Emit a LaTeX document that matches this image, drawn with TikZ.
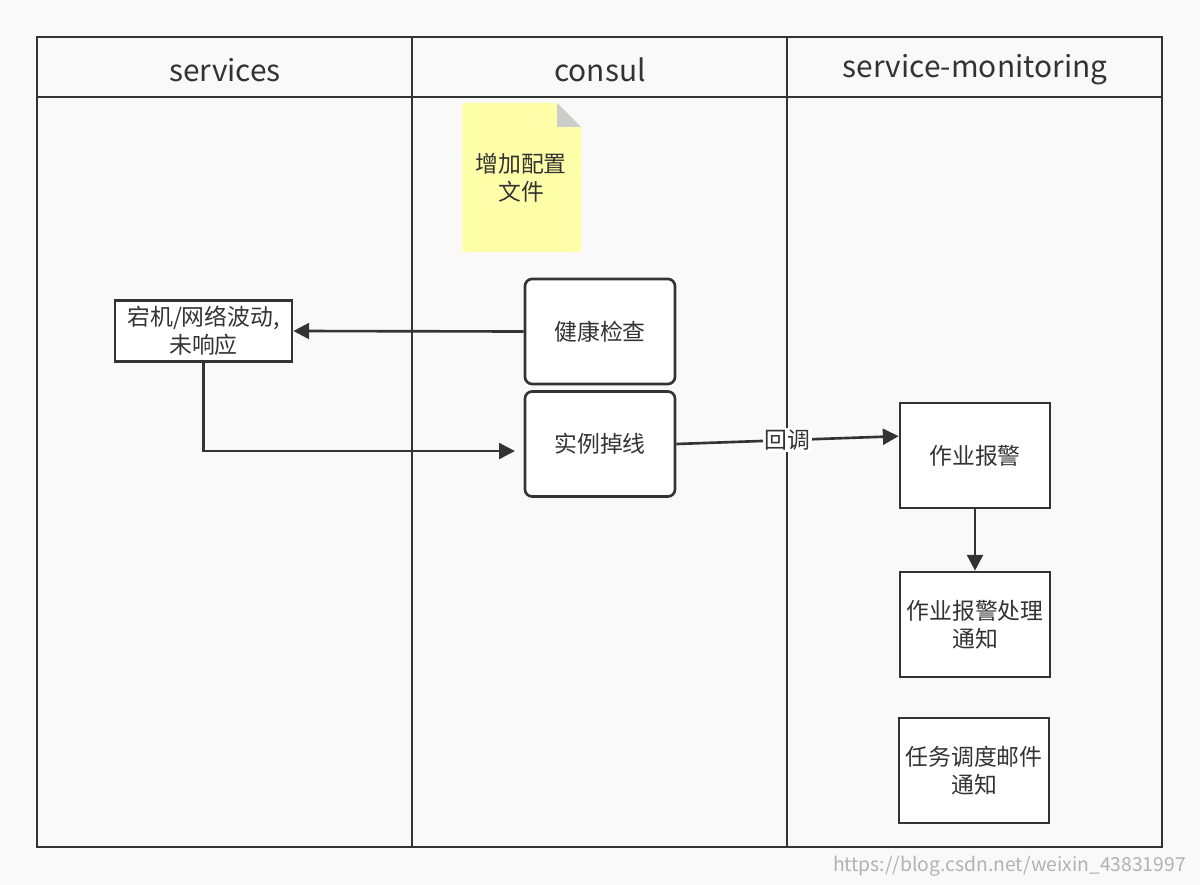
\documentclass[tikz,border=0pt]{standalone}
\usepackage{fontspec}
\setmainfont{Noto Sans CJK SC}
\usetikzlibrary{arrows.meta,positioning}
\definecolor{bgcol}{HTML}{F9F9F9}
\definecolor{linecol}{HTML}{333333}
\definecolor{notecol}{HTML}{FFFFAA}
\begin{document}
\begin{tikzpicture}[x=0.02cm,y=-0.02cm,
    lane/.style={draw=linecol,line width=1.5pt},
    header/.style={font=\fontsize{17}{20}\selectfont,text=linecol},
    task/.style={draw=linecol,line width=1.5pt,fill=white,minimum width=3cm,minimum height=2.1cm,align=center,font=\fontsize{13}{16}\selectfont,text=linecol},
    rtask/.style={task,rounded corners=4pt},
    flow/.style={draw=linecol,line width=1.5pt,-{Triangle[length=9pt,width=9pt]}}]
  \fill[bgcol] (0,0) rectangle (1200,885);
  \useasboundingbox (0,0) rectangle (1200,885);
  % pool
  \draw[lane] (37,37) rectangle (1162,847);
  \draw[lane] (37,97) -- (1162,97);
  \draw[lane] (412,37) -- (412,847);
  \draw[lane] (787,37) -- (787,847);
  \node[header] (hservices) at (225,70) {services};
  \node[header] (hconsul) at (600,70) {consul};
  \node[header] (hmonitor) at (975,70) {service-monitoring};
  % note
  \fill[notecol] (462,103) -- (557,103) -- (581,127) -- (581,252) -- (462,252) -- cycle;
  \fill[black!20] (557,103) -- (581,127) -- (557,127) -- cycle;
  \node[font=\fontsize{13}{16}\selectfont,align=center,text=linecol] (note) at (521,178) {增加配置\\文件};
  % tasks
  \node[task,minimum width=3.54cm,minimum height=1.2cm] (down) at (203.5,331) {宕机/网络波动,\\未响应};
  \node[rtask] (check) at (600,331.5) {健康检查};
  \node[rtask] (offline) at (600,444) {实例掉线};
  \node[task] (alarm) at (975,455.5) {作业报警};
  \node[task] (handle) at (975,624.5) {作业报警处理\\通知};
  \node[task] (mail) at (974,770.5) {任务调度邮件\\通知};
  % connectors
  \draw[flow] (check.west) -- (down.east);
  \draw[flow] (down.south) |- ([xshift=-5pt,yshift=-4pt]offline.west);
  \draw[flow] (offline.east) -- node[fill=white,inner sep=1pt,font=\fontsize{13}{16}\selectfont,text=linecol] (cb) {回调} ([yshift=11pt]alarm.west);
  \draw[flow] (alarm.south) -- (handle.north);
  \node[anchor=east,font=\fontsize{11}{13}\selectfont,text=black!30] (wm) at (1192,866) {https://blog.csdn.net/weixin\_43831997};
\end{tikzpicture}
\end{document}
